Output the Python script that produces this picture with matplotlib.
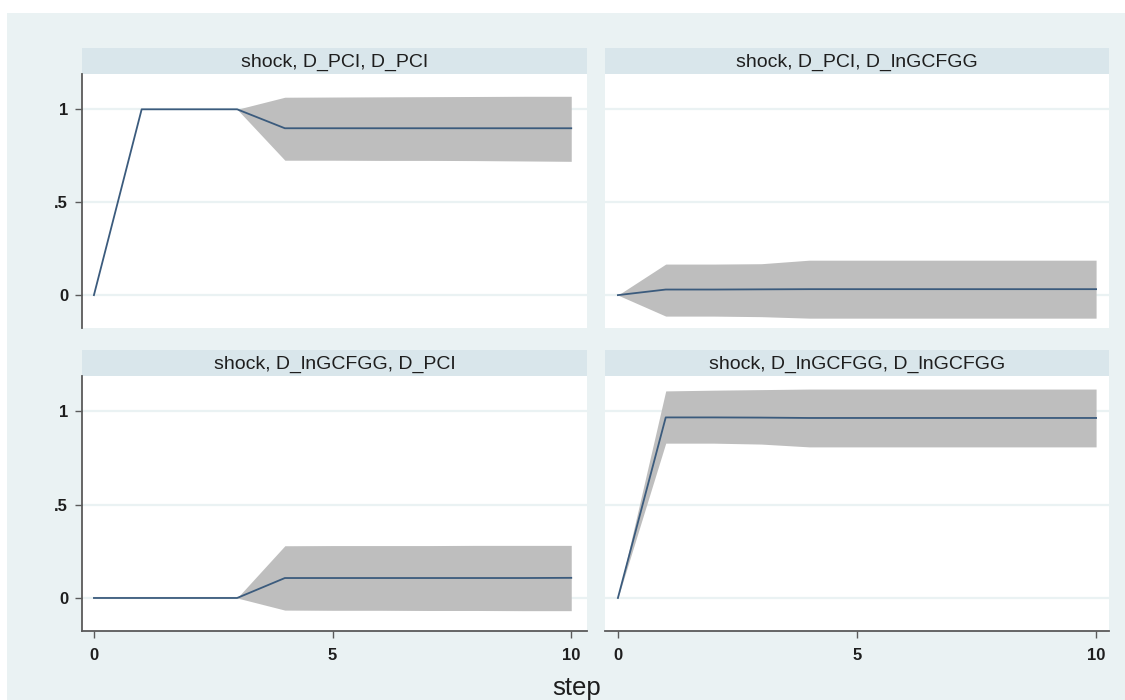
import matplotlib.pyplot as plt
from matplotlib.patches import Rectangle

# IRF data (step 0..10)
steps = list(range(11))

pci_pci_irf = [0, 1, 1, 1, 0.898, 0.898, 0.898, 0.898, 0.898, 0.898, 0.898]
pci_pci_lo = [0, 1, 1, 1, 0.726, 0.726, 0.725, 0.725, 0.724, 0.722, 0.72]
pci_pci_hi = [0, 1, 1, 1, 1.065, 1.066, 1.067, 1.068, 1.069, 1.07, 1.07]

pci_gcf_irf = [0, 0.03, 0.03, 0.031, 0.032, 0.032, 0.032, 0.032, 0.032, 0.032, 0.032]
pci_gcf_lo = [0, -0.113, -0.113, -0.116, -0.124, -0.124, -0.124, -0.124, -0.124, -0.124, -0.124]
pci_gcf_hi = [0, 0.167, 0.167, 0.169, 0.188, 0.188, 0.188, 0.188, 0.188, 0.188, 0.188]

gcf_pci_irf = [0, 0, 0, 0, 0.107, 0.107, 0.107, 0.107, 0.107, 0.107, 0.108]
gcf_pci_lo = [0, 0, 0, 0, -0.065, -0.066, -0.066, -0.067, -0.067, -0.068, -0.068]
gcf_pci_hi = [0, 0, 0, 0, 0.28, 0.281, 0.281, 0.281, 0.282, 0.282, 0.282]

gcf_gcf_irf = [0, 0.968, 0.968, 0.967, 0.965, 0.965, 0.965, 0.965, 0.965, 0.965, 0.965]
gcf_gcf_lo = [0, 0.83, 0.83, 0.825, 0.81, 0.81, 0.81, 0.81, 0.81, 0.81, 0.81]
gcf_gcf_hi = [0, 1.11, 1.114, 1.117, 1.12, 1.12, 1.12, 1.12, 1.12, 1.12, 1.12]

titles = ["shock, D_PCI, D_PCI", "shock, D_PCI, D_lnGCFGG",
          "shock, D_lnGCFGG, D_PCI", "shock, D_lnGCFGG, D_lnGCFGG"]
yticks = [0, 0.5, 1]
yticklabels = ["0", ".5", "1"]
xticks = [0, 5, 10]

W, H = 1125, 700
BG = "#eaf2f3"
STRIP = "#d9e6eb"
LINE = "#3b5b7d"
BAND = "#bebebe"
SPINE = "#5a5a5a"

plt.rcParams['font.family'] = ['Liberation Sans', 'DejaVu Sans']

fig = plt.figure(figsize=(W / 100, H / 100), dpi=100, facecolor="white")
fig.patches.append(Rectangle((7 / W, 0), 1 - 7 / W, 1 - 13 / H, transform=fig.transFigure,
                             facecolor=BG, edgecolor="none", zorder=-5))


def px(x0, y0, x1, y1):
    return [x0 / W, 1 - y1 / H, (x1 - x0) / W, (y1 - y0) / H]


panels = [
    (pci_pci_irf, pci_pci_lo, pci_pci_hi, 82, 587, 48, 74, 328, True, False),
    (pci_gcf_irf, pci_gcf_lo, pci_gcf_hi, 605, 1109, 48, 74, 328, False, False),
    (gcf_pci_irf, gcf_pci_lo, gcf_pci_hi, 82, 587, 350, 376, 631, True, True),
    (gcf_gcf_irf, gcf_gcf_lo, gcf_gcf_hi, 605, 1109, 350, 376, 631, False, True),
]

for i, (irf, lo, hi, x0, x1, s0, p0, p1, show_y, show_x) in enumerate(panels):
    # title strip
    sax = fig.add_axes(px(x0, s0, x1, p0))
    sax.set_zorder(1)
    sax.set_facecolor(STRIP)
    sax.set_xticks([])
    sax.set_yticks([])
    for s in sax.spines.values():
        s.set_visible(False)
    sax.text(0.5, 0.45, titles[i], ha="center", va="center", fontsize=14, color="#1e1e1e")

    ax = fig.add_axes(px(x0, p0, x1, p1))
    ax.set_zorder(1)
    ax.set_facecolor("white")
    ax.fill_between(steps, lo, hi, color=BAND, linewidth=0, zorder=2)
    ax.plot(steps, irf, color=LINE, linewidth=1.3, zorder=3)
    ax.set_ylim(-0.177, 1.19)
    if x0 < 300:
        ax.set_xlim(-0.25, 10.33)
    else:
        ax.set_xlim(-0.27, 10.27)
    ax.set_yticks(yticks)
    ax.grid(axis="y", color=BG, linewidth=1.6, zorder=1)
    for s in ["top", "right"]:
        ax.spines[s].set_visible(False)
    ax.spines["left"].set_visible(show_y)
    ax.spines["bottom"].set_visible(show_x)
    ax.spines["left"].set_color(SPINE)
    ax.spines["bottom"].set_color(SPINE)
    ax.spines["left"].set_linewidth(1.3)
    ax.spines["bottom"].set_linewidth(1.3)
    if show_y:
        ax.set_yticklabels(yticklabels)
        ax.tick_params(axis="y", length=5, width=1, color=SPINE, labelsize=12, pad=5)
    else:
        ax.tick_params(axis="y", length=0, labelleft=False)
    if show_x:
        ax.set_xticks(xticks)
        ax.tick_params(axis="x", length=5, width=1, color=SPINE, labelsize=12, pad=7)
    else:
        ax.set_xticks([])
    for lab in ax.get_xticklabels() + ax.get_yticklabels():
        lab.set_fontweight("bold")
        lab.set_color("#1e1e1e")

fig.text(577 / W, 1 - 688 / H, "step", ha="center", va="center", fontsize=18.5, color="#1e1e1e")

plt.savefig("out.png", dpi=100, facecolor=fig.get_facecolor())
